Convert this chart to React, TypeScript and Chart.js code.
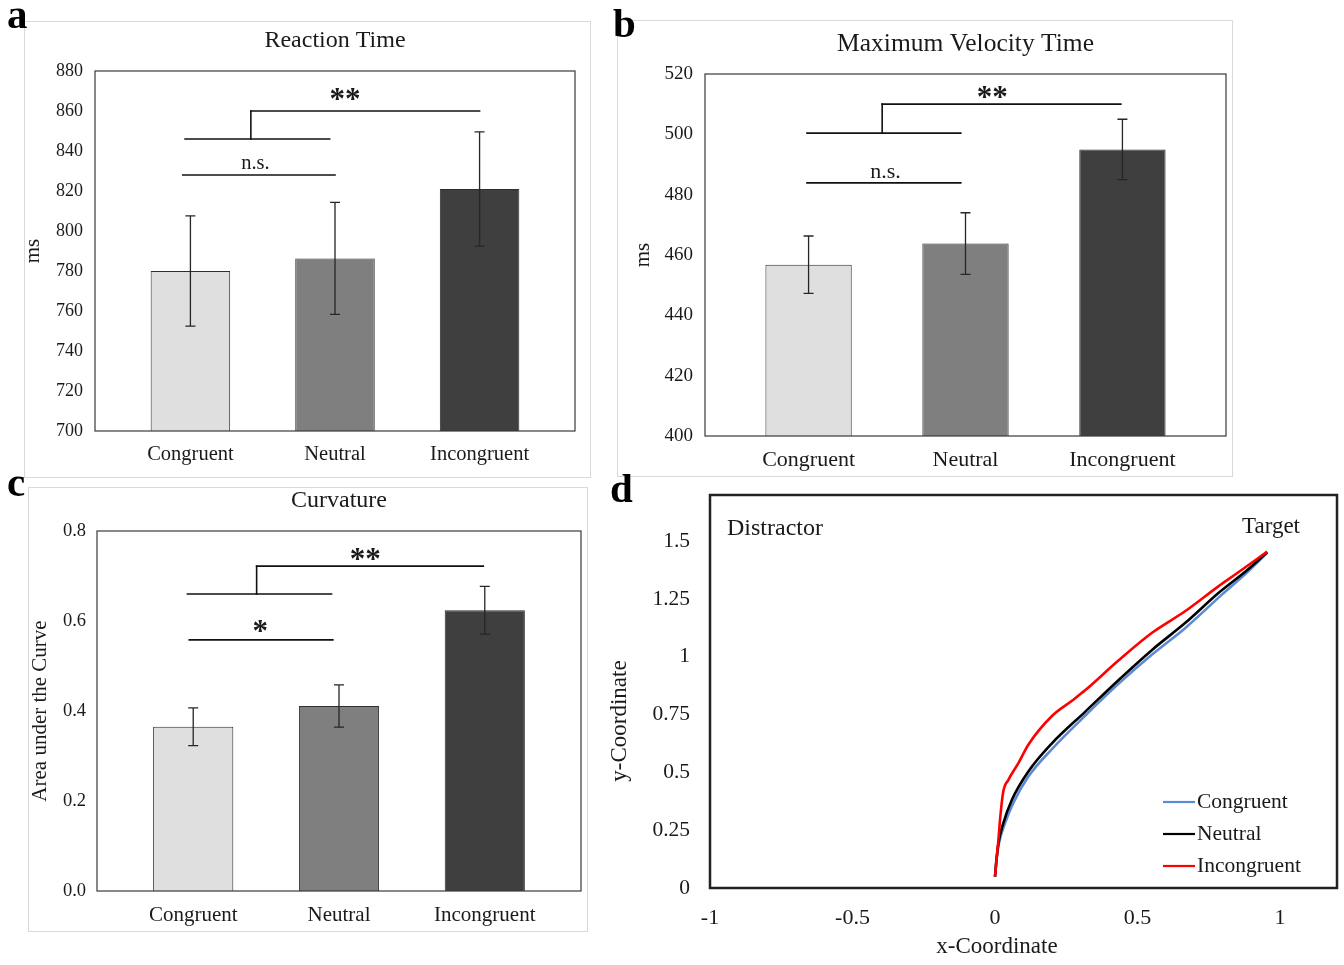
import React, { useEffect, useRef } from 'react';
import { Chart, registerables } from 'chart.js';

Chart.register(...registerables);

const W = 1344;
const H = 965;
const SERIF = "'Times New Roman', 'Liberation Serif', serif";
const INK = '#1a1a1a';

// ---------------- data ----------------
const categories = ['Congruent', 'Neutral', 'Incongruent'];
const barFills = ['#dfdfdf', '#7f7f7f', '#3f3f3f'];

const reactionTimeMeans = [780.0, 786.3, 821.0];
const reactionTimeErrors = [27.6, 28.0, 28.6];
const reactionTimeTicks = [700, 720, 740, 760, 780, 800, 820, 840, 860, 880];

const maxVelocityMeans = [456.8, 463.8, 495.0];
const maxVelocityErrors = [9.5, 10.2, 10.0];
const maxVelocityTicks = [400, 420, 440, 460, 480, 500, 520];

const curvatureMeans = [0.365, 0.411, 0.624];
const curvatureErrors = [0.042, 0.047, 0.053];
const curvatureTicks = [0, 0.2, 0.4, 0.6, 0.8];

// significance brackets: [x1, y1, x2, y2] in (category index, value) units
const reactionTimeBrackets = [
  [-0.053, 828, 1.0, 828],
  [-0.037, 846, 0.963, 846],
  [0.418, 846, 0.418, 860],
  [0.418, 860, 2.0, 860],
];
const reactionTimeMarks = [
  { text: 'n.s.', x: 0.45, y: 831 },
  { text: '**', x: 1.07, y: 861 },
];

const maxVelocityBrackets = [
  [-0.01, 483.9, 0.97, 483.9],
  [-0.01, 500.4, 0.97, 500.4],
  [0.469, 500.4, 0.469, 510],
  [0.469, 510, 1.99, 510],
];
const maxVelocityMarks = [
  { text: 'n.s.', x: 0.49, y: 485.5 },
  { text: '**', x: 1.17, y: 509 },
];

const curvatureBrackets = [
  [-0.027, 0.558, 0.958, 0.558],
  [-0.04, 0.66, 0.949, 0.66],
  [0.435, 0.66, 0.435, 0.722],
  [0.435, 0.722, 1.99, 0.722],
];
const curvatureMarks = [
  { text: '*', x: 0.46, y: 0.556 },
  { text: '**', x: 1.18, y: 0.715 },
];

// mouse trajectories
const trajectoryLabels = ['Congruent', 'Neutral', 'Incongruent'];
const trajectoryColors = ['#5b8bd6', '#000000', '#ff0000'];

const congruentX = [0, 0.005, 0.014, 0.035, 0.064, 0.117, 0.199, 0.316, 0.434, 0.551, 0.668, 0.797, 0.88, 0.955];
const congruentY = [0.049, 0.12, 0.194, 0.28, 0.367, 0.482, 0.6, 0.745, 0.884, 1.01, 1.125, 1.27, 1.36, 1.45];

const neutralX = [0, 0.005, 0.012, 0.029, 0.059, 0.117, 0.199, 0.316, 0.434, 0.551, 0.668, 0.785, 0.88, 0.955];
const neutralY = [0.049, 0.12, 0.194, 0.28, 0.381, 0.504, 0.625, 0.762, 0.9, 1.03, 1.147, 1.277, 1.37, 1.452];

const incongruentX = [0, 0.006, 0.012, 0.018, 0.029, 0.047, 0.082, 0.117, 0.199, 0.27, 0.316, 0.434, 0.551, 0.668, 0.785, 0.844, 0.955];
const incongruentY = [0.049, 0.13, 0.208, 0.3, 0.417, 0.468, 0.54, 0.62, 0.743, 0.81, 0.855, 0.985, 1.104, 1.198, 1.306, 1.357, 1.455];

const xCoordTicks = [-1, -0.5, 0, 0.5, 1];
const yCoordTicks = [0, 0.25, 0.5, 0.75, 1, 1.25, 1.5];

// ---------------- layout ----------------
type BarLayout = {
  letter: string;
  letterAt: [number, number];
  box: [number, number, number, number];
  area: [number, number, number, number];
  title: string;
  yTitle: string;
  yTitleX: number;
  catY: number;
  tickSize: number;
  catSize: number;
  titleSize: number;
  yTitleSize: number;
  tickPad: number;
  decimals: number;
};

const font = (size: number, weight: string = 'normal') => ({ family: SERIF, size, weight, lineHeight: 1.2 });

function buildBarChart(
  canvas: HTMLCanvasElement,
  L: BarLayout,
  means: number[],
  errors: number[],
  yTicks: number[],
  brackets: number[][],
  marks: { text: string; x: number; y: number }[]
) {
  const [al, at, ar, ab] = L.area;
  const padLeft = L.yTitleX - (L.yTitleSize * 1.2) / 2;
  const catPad = L.catY - ab - (L.catSize * 1.2) / 2;

  const decor = {
    id: 'barDecor',
    beforeDraw(chart: any) {
      const ctx = chart.ctx;
      const [bl, bt, br, bb] = L.box;
      ctx.save();
      ctx.strokeStyle = '#d9d9d9';
      ctx.lineWidth = 1;
      ctx.strokeRect(bl + 0.5, bt + 0.5, br - bl, bb - bt);
      ctx.restore();
    },
    afterDatasetsDraw(chart: any) {
      const { ctx, chartArea: a, scales } = chart;
      const x = scales.x;
      const y = scales.y;
      ctx.save();
      // error bars
      ctx.strokeStyle = '#262626';
      ctx.lineWidth = 1.3;
      const meta = chart.getDatasetMeta(0);
      meta.data.forEach((el: any, i: number) => {
        const cx = el.x;
        const t = y.getPixelForValue(means[i] + errors[i]);
        const b = y.getPixelForValue(means[i] - errors[i]);
        ctx.beginPath();
        ctx.moveTo(cx, t);
        ctx.lineTo(cx, b);
        ctx.moveTo(cx - 5, t);
        ctx.lineTo(cx + 5, t);
        ctx.moveTo(cx - 5, b);
        ctx.lineTo(cx + 5, b);
        ctx.stroke();
      });
      // plot frame
      ctx.strokeStyle = '#3a3a3a';
      ctx.lineWidth = 1.2;
      ctx.strokeRect(a.left, a.top, a.width, a.height);
      // brackets
      ctx.strokeStyle = '#111';
      ctx.lineWidth = 1.6;
      ctx.lineCap = 'square';
      brackets.forEach(([x1, y1, x2, y2]) => {
        ctx.beginPath();
        ctx.moveTo(x.getPixelForValue(x1), y.getPixelForValue(y1));
        ctx.lineTo(x.getPixelForValue(x2), y.getPixelForValue(y2));
        ctx.stroke();
      });
      // significance marks
      ctx.fillStyle = INK;
      ctx.textAlign = 'center';
      ctx.textBaseline = 'alphabetic';
      marks.forEach((m) => {
        const star = m.text.includes('*');
        ctx.font = star ? `bold 31px ${SERIF}` : `${L.catSize}px ${SERIF}`;
        ctx.fillText(m.text, x.getPixelForValue(m.x), y.getPixelForValue(m.y));
      });
      ctx.restore();
    },
    afterDraw(chart: any) {
      const { ctx, chartArea: a } = chart;
      ctx.save();
      ctx.fillStyle = INK;
      ctx.textAlign = 'center';
      ctx.textBaseline = 'middle';
      ctx.font = `${L.titleSize}px ${SERIF}`;
      ctx.fillText(L.title, (a.left + a.right) / 2, a.top - 30);
      ctx.textAlign = 'left';
      ctx.textBaseline = 'alphabetic';
      ctx.font = `bold 41px ${SERIF}`;
      ctx.fillStyle = '#000';
      ctx.fillText(L.letter, L.letterAt[0], L.letterAt[1]);
      ctx.restore();
    },
  };

  return new Chart(canvas, {
    type: 'bar',
    data: {
      datasets: [
        {
          data: means.map((m, i) => ({ x: i, y: m })),
          backgroundColor: barFills,
          borderColor: '#2e2e2e',
          borderWidth: 1,
          barPercentage: 0.55,
          categoryPercentage: 1,
        },
      ],
    },
    options: {
      responsive: false,
      animation: false,
      devicePixelRatio: 1,
      events: [],
      layout: { padding: { left: padLeft, top: at, right: W - ar, bottom: 0 } },
      plugins: { legend: { display: false }, tooltip: { enabled: false }, title: { display: false } },
      scales: {
        x: {
          type: 'linear',
          offset: false,
          min: -0.66,
          max: 2.66,
          grid: { display: false, drawTicks: false },
          border: { display: false },
          afterBuildTicks: (ax: any) => {
            ax.ticks = categories.map((_, i) => ({ value: i }));
          },
          afterFit: (ax: any) => {
            ax.height = H - ab;
          },
          ticks: {
            autoSkip: false,
            maxRotation: 0,
            padding: catPad,
            color: INK,
            font: font(L.catSize),
            callback: (v: any) => categories[Math.round(Number(v))] ?? '',
          },
        },
        y: {
          type: 'linear',
          min: yTicks[0],
          max: yTicks[yTicks.length - 1],
          grid: { display: false, drawTicks: false },
          border: { display: false },
          afterBuildTicks: (ax: any) => {
            ax.ticks = yTicks.map((v) => ({ value: v }));
          },
          afterFit: (ax: any) => {
            ax.width = al - padLeft;
          },
          ticks: {
            padding: L.tickPad,
            color: INK,
            font: font(L.tickSize),
            callback: (v: any) => Number(v).toFixed(L.decimals),
          },
          title: {
            display: true,
            text: L.yTitle,
            color: INK,
            padding: 0,
            font: font(L.yTitleSize),
          },
        },
      },
    },
    plugins: [decor],
  } as any);
}

const layoutA: BarLayout = {
  letter: 'a', letterAt: [7, 28], box: [24, 21, 590, 477], area: [95, 71, 575, 431],
  title: 'Reaction Time', yTitle: 'ms', yTitleX: 33, catY: 455,
  tickSize: 18, catSize: 20.5, titleSize: 24, yTitleSize: 21, tickPad: 12, decimals: 0,
};
const layoutB: BarLayout = {
  letter: 'b', letterAt: [613, 37], box: [617, 20, 1232, 476], area: [705, 74, 1226, 436],
  title: 'Maximum Velocity Time', yTitle: 'ms', yTitleX: 643, catY: 460,
  tickSize: 19, catSize: 22, titleSize: 25.5, yTitleSize: 21, tickPad: 12, decimals: 0,
};
const layoutC: BarLayout = {
  letter: 'c', letterAt: [7, 496], box: [28, 487, 587, 931], area: [97, 531, 581, 891],
  title: 'Curvature', yTitle: 'Area under the Curve', yTitleX: 40, catY: 915,
  tickSize: 18.5, catSize: 21, titleSize: 24, yTitleSize: 21, tickPad: 11, decimals: 1,
};

const buildA = (c: HTMLCanvasElement) =>
  buildBarChart(c, layoutA, reactionTimeMeans, reactionTimeErrors, reactionTimeTicks, reactionTimeBrackets, reactionTimeMarks);
const buildB = (c: HTMLCanvasElement) =>
  buildBarChart(c, layoutB, maxVelocityMeans, maxVelocityErrors, maxVelocityTicks, maxVelocityBrackets, maxVelocityMarks);
const buildC = (c: HTMLCanvasElement) =>
  buildBarChart(c, layoutC, curvatureMeans, curvatureErrors, curvatureTicks, curvatureBrackets, curvatureMarks);

function buildD(canvas: HTMLCanvasElement) {
  const area = [710, 495, 1337, 888];
  const series = [
    [congruentX, congruentY],
    [neutralX, neutralY],
    [incongruentX, incongruentY],
  ];
  const decor = {
    id: 'trajDecor',
    afterDatasetsDraw(chart: any) {
      const { ctx, chartArea: a } = chart;
      ctx.save();
      ctx.strokeStyle = '#222';
      ctx.lineWidth = 2.5;
      ctx.strokeRect(a.left, a.top, a.width, a.height);
      ctx.restore();
    },
    afterDraw(chart: any) {
      const { ctx, chartArea: a } = chart;
      ctx.save();
      ctx.fillStyle = INK;
      ctx.textBaseline = 'middle';
      ctx.font = `24px ${SERIF}`;
      ctx.textAlign = 'left';
      ctx.fillText('Distractor', a.left + 17, a.top + 34);
      ctx.font = `23px ${SERIF}`;
      ctx.textAlign = 'right';
      ctx.fillText('Target', a.right - 37, a.top + 32);
      // legend
      ctx.font = `21.5px ${SERIF}`;
      ctx.textAlign = 'left';
      chart.data.datasets.forEach((ds: any, i: number) => {
        const yy = 802 + i * 32;
        ctx.strokeStyle = ds.borderColor;
        ctx.lineWidth = 2.2;
        ctx.beginPath();
        ctx.moveTo(1163, yy);
        ctx.lineTo(1195, yy);
        ctx.stroke();
        ctx.fillStyle = INK;
        ctx.fillText(ds.label, 1197, yy);
      });
      // axis titles
      ctx.font = `23px ${SERIF}`;
      ctx.textAlign = 'center';
      ctx.fillText('x-Coordinate', 997, 947);
      ctx.translate(620, 721);
      ctx.rotate(-Math.PI / 2);
      ctx.fillText('y-Coordinate', 0, 0);
      ctx.restore();
      ctx.save();
      ctx.font = `bold 41px ${SERIF}`;
      ctx.fillStyle = '#000';
      ctx.textBaseline = 'alphabetic';
      ctx.fillText('d', 610, 502);
      ctx.restore();
    },
  };
  return new Chart(canvas, {
    type: 'line',
    data: {
      datasets: series.map(([xs, ys], k) => ({
        label: trajectoryLabels[k],
        data: xs.map((x, i) => ({ x, y: ys[i] })),
        borderColor: trajectoryColors[k],
        borderWidth: 2.6,
        pointRadius: 0,
        fill: false,
        cubicInterpolationMode: 'monotone',
        order: 3 - k,
      })),
    },
    options: {
      responsive: false,
      animation: false,
      devicePixelRatio: 1,
      events: [],
      layout: { padding: { left: 600, top: area[1], right: W - area[2], bottom: 0 } },
      plugins: { legend: { display: false }, tooltip: { enabled: false }, title: { display: false } },
      scales: {
        x: {
          type: 'linear',
          min: -1,
          max: 1.2,
          grid: { display: false, drawTicks: false },
          border: { display: false },
          afterBuildTicks: (ax: any) => {
            ax.ticks = xCoordTicks.map((v) => ({ value: v }));
          },
          afterFit: (ax: any) => {
            ax.height = H - area[3];
          },
          ticks: {
            autoSkip: false,
            maxRotation: 0,
            padding: 30 - 22 * 0.6,
            color: INK,
            font: font(22),
            callback: (v: any) => String(v),
          },
        },
        y: {
          type: 'linear',
          min: 0,
          max: 1.7,
          grid: { display: false, drawTicks: false },
          border: { display: false },
          afterBuildTicks: (ax: any) => {
            ax.ticks = yCoordTicks.map((v) => ({ value: v }));
          },
          afterFit: (ax: any) => {
            ax.width = area[0] - 600;
          },
          ticks: {
            padding: 20,
            color: INK,
            font: font(21.5),
            callback: (v: any) => String(v),
          },
        },
      },
    },
    plugins: [decor],
  } as any);
}

function ChartCanvas({ build }: { build: (c: HTMLCanvasElement) => Chart }) {
  const ref = useRef<HTMLCanvasElement>(null);
  useEffect(() => {
    const chart = build(ref.current as HTMLCanvasElement);
    return () => chart.destroy();
  }, [build]);
  return (
    <canvas
      ref={ref}
      width={W}
      height={H}
      style={{ position: 'absolute', left: 0, top: 0, width: W, height: H }}
    />
  );
}

export default function App() {
  return (
    <div style={{ position: 'absolute', left: 0, top: 0, width: W, height: H, background: '#fff', overflow: 'hidden' }}>
      <ChartCanvas build={buildA} />
      <ChartCanvas build={buildB} />
      <ChartCanvas build={buildC} />
      <ChartCanvas build={buildD} />
    </div>
  );
}
